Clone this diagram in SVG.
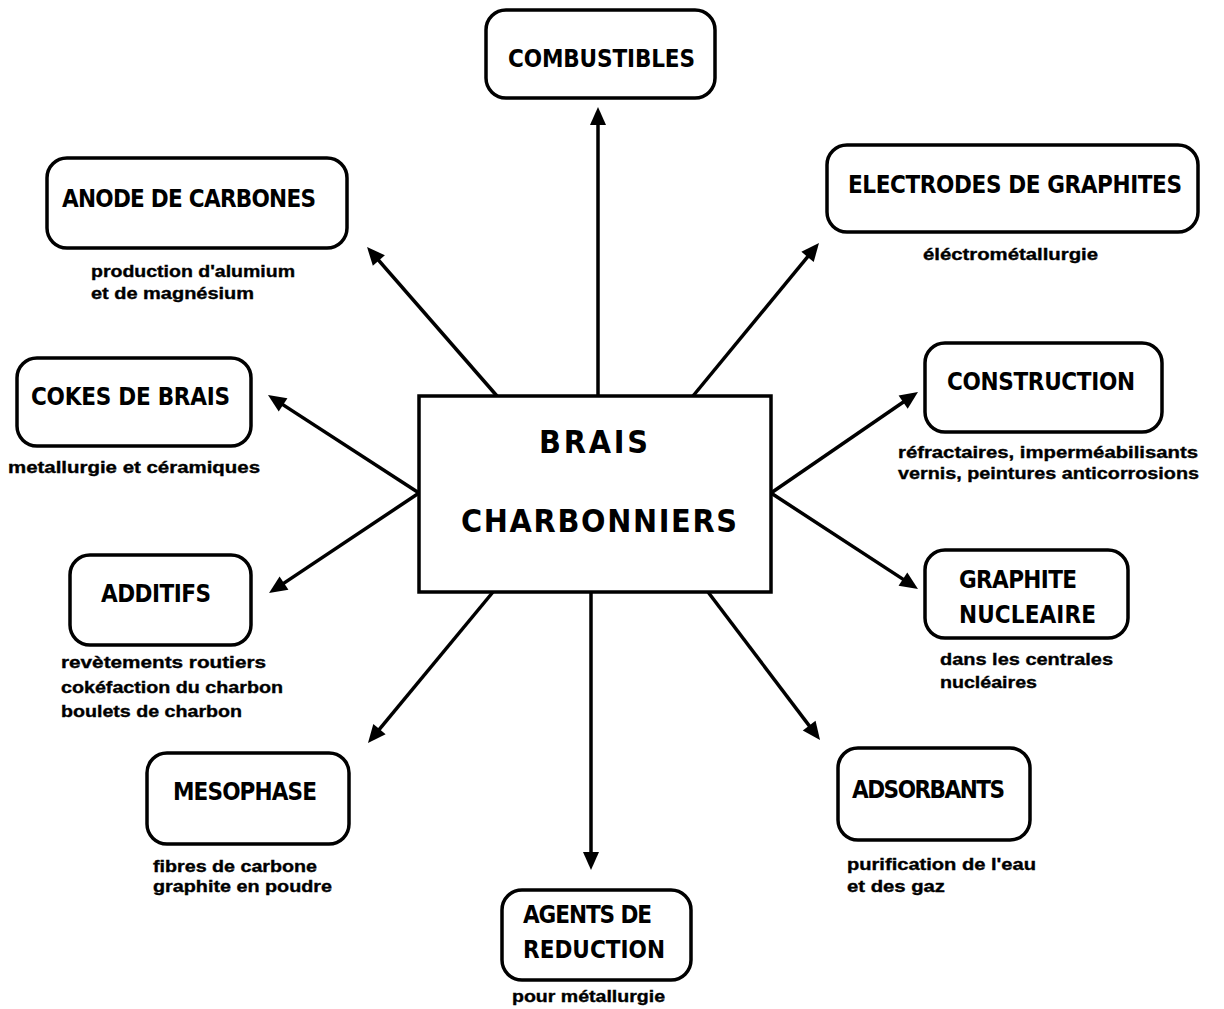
<svg xmlns="http://www.w3.org/2000/svg" width="1224" height="1009" viewBox="0 0 1224 1009">
<style>
.box{fill:#fff;stroke:#000;stroke-width:3.5}
.lbl{font-family:"DejaVu Sans","Liberation Sans",Arial,sans-serif;font-stretch:condensed;font-weight:bold;font-size:24px;fill:#000}
.big{font-family:"DejaVu Sans","Liberation Sans",Arial,sans-serif;font-stretch:condensed;font-weight:bold;font-size:32px;fill:#000}
.sub{font-family:"Liberation Sans",Arial,sans-serif;font-weight:bold;font-size:16px;fill:#000;stroke:#000;stroke-width:0.35}
.con line{stroke:#000;stroke-width:3.5;marker-end:url(#ah)}
</style>
<defs>
<marker id="ah" markerUnits="userSpaceOnUse" markerWidth="18" markerHeight="16" refX="10" refY="8" orient="auto" overflow="visible">
<path d="M0,0 L18,8 L0,16 z" fill="#000"/>
</marker>
</defs>
<rect width="1224" height="1009" fill="#fff"/>
<g id="connectors" class="con">
<line x1="598" y1="396" x2="598" y2="115"/>
<line x1="497" y1="396" x2="372.3" y2="253"/>
<line x1="693" y1="396" x2="813.9" y2="249.2"/>
<line x1="771" y1="493" x2="911.4" y2="396.5"/>
<line x1="419" y1="493" x2="274.7" y2="399.4"/>
<line x1="419" y1="493" x2="275.7" y2="588.6"/>
<line x1="771" y1="493" x2="911.3" y2="584.6"/>
<line x1="493" y1="592" x2="373.1" y2="736.8"/>
<line x1="591" y1="592" x2="591" y2="862"/>
<line x1="708" y1="592" x2="815.2" y2="733.6"/>
</g>
<g id="center">
<rect class="box" x="419" y="396" width="352" height="196"/>
<text class="big" x="539" y="453" textLength="109" lengthAdjust="spacing">BRAIS</text>
<text class="big" x="461" y="532" textLength="276" lengthAdjust="spacing">CHARBONNIERS</text>
</g>
<g id="combustibles">
<rect class="box" x="486" y="10" width="229" height="88" rx="20"/>
<text class="lbl" x="508" y="67" textLength="187" lengthAdjust="spacing">COMBUSTIBLES</text>
</g>
<g id="anode">
<rect class="box" x="47" y="158" width="300" height="90" rx="20"/>
<text class="lbl" x="62" y="207" textLength="254" lengthAdjust="spacing">ANODE DE CARBONES</text>
<text class="sub" x="91" y="277" textLength="204" lengthAdjust="spacingAndGlyphs">production d'alumium</text>
<text class="sub" x="91" y="299" textLength="163" lengthAdjust="spacingAndGlyphs">et de magnésium</text>
</g>
<g id="electrodes">
<rect class="box" x="827" y="145" width="371" height="87" rx="20"/>
<text class="lbl" x="848" y="193" textLength="334" lengthAdjust="spacing">ELECTRODES DE GRAPHITES</text>
<text class="sub" x="923" y="260" textLength="175" lengthAdjust="spacingAndGlyphs">éléctrométallurgie</text>
</g>
<g id="construction">
<rect class="box" x="925" y="343" width="237" height="89" rx="20"/>
<text class="lbl" x="947" y="390" textLength="188" lengthAdjust="spacing">CONSTRUCTION</text>
<text class="sub" x="898" y="458" textLength="300" lengthAdjust="spacingAndGlyphs">réfractaires, imperméabilisants</text>
<text class="sub" x="898" y="479" textLength="301" lengthAdjust="spacingAndGlyphs">vernis, peintures anticorrosions</text>
</g>
<g id="cokes">
<rect class="box" x="17" y="358" width="234" height="88" rx="20"/>
<text class="lbl" x="31" y="405" textLength="199" lengthAdjust="spacing">COKES DE BRAIS</text>
<text class="sub" x="8" y="473" textLength="252" lengthAdjust="spacingAndGlyphs">metallurgie et céramiques</text>
</g>
<g id="additifs">
<rect class="box" x="70" y="555" width="181" height="90" rx="20"/>
<text class="lbl" x="101" y="602" textLength="110" lengthAdjust="spacing">ADDITIFS</text>
<text class="sub" x="61" y="668" textLength="205" lengthAdjust="spacingAndGlyphs">revètements routiers</text>
<text class="sub" x="61" y="693" textLength="222" lengthAdjust="spacingAndGlyphs">cokéfaction du charbon</text>
<text class="sub" x="61" y="717" textLength="181" lengthAdjust="spacingAndGlyphs">boulets de charbon</text>
</g>
<g id="graphite-nucleaire">
<rect class="box" x="925" y="550" width="203" height="88" rx="20"/>
<text class="lbl" x="959" y="588" textLength="118" lengthAdjust="spacing">GRAPHITE</text>
<text class="lbl" x="959" y="623" textLength="137" lengthAdjust="spacing">NUCLEAIRE</text>
<text class="sub" x="940" y="665" textLength="173" lengthAdjust="spacingAndGlyphs">dans les centrales</text>
<text class="sub" x="940" y="688" textLength="97" lengthAdjust="spacingAndGlyphs">nucléaires</text>
</g>
<g id="adsorbants">
<rect class="box" x="838" y="748" width="192" height="92" rx="20"/>
<text class="lbl" x="852" y="798" textLength="153" lengthAdjust="spacing">ADSORBANTS</text>
<text class="sub" x="847" y="870" textLength="189" lengthAdjust="spacingAndGlyphs">purification de l'eau</text>
<text class="sub" x="847" y="892" textLength="98" lengthAdjust="spacingAndGlyphs">et des gaz</text>
</g>
<g id="mesophase">
<rect class="box" x="147" y="753" width="202" height="91" rx="20"/>
<text class="lbl" x="173" y="800" textLength="144" lengthAdjust="spacing">MESOPHASE</text>
<text class="sub" x="153" y="872" textLength="164" lengthAdjust="spacingAndGlyphs">fibres de carbone</text>
<text class="sub" x="153" y="892" textLength="179" lengthAdjust="spacingAndGlyphs">graphite en poudre</text>
</g>
<g id="agents">
<rect class="box" x="502" y="890" width="189" height="90" rx="20"/>
<text class="lbl" x="523" y="923" textLength="129" lengthAdjust="spacing">AGENTS DE</text>
<text class="lbl" x="523" y="958" textLength="142" lengthAdjust="spacing">REDUCTION</text>
<text class="sub" x="512" y="1002" textLength="153" lengthAdjust="spacingAndGlyphs">pour métallurgie</text>
</g>
</svg>
